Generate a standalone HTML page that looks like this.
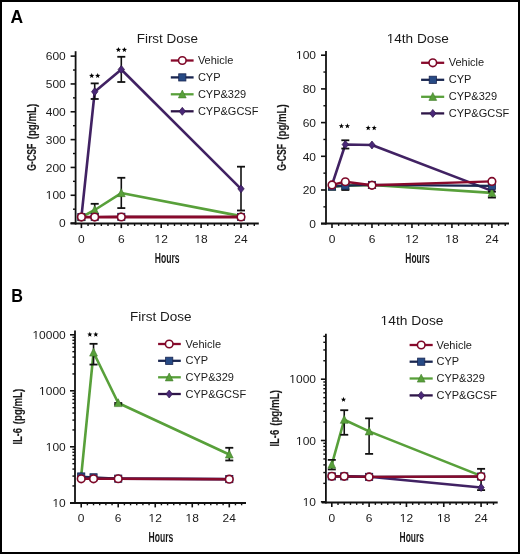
<!DOCTYPE html>
<html><head><meta charset="utf-8"><style>
html,body{margin:0;padding:0;background:#fff;}
svg{display:block;font-family:"Liberation Sans", sans-serif;}
text{-webkit-font-smoothing:antialiased;}
svg{will-change:transform;}
</style></head><body>
<svg width="520" height="554" viewBox="0 0 520 554">
<rect x="0" y="0" width="520" height="554" fill="#fff"/>
<polyline points="81.40,217.12 94.70,91.74 121.30,69.48 241.00,188.87" fill="none" stroke="#412263" stroke-width="2.6" stroke-linejoin="round"/>
<polyline points="81.40,217.12 94.70,210.02 121.30,193.04 241.00,216.14" fill="none" stroke="#58a03a" stroke-width="2.6" stroke-linejoin="round"/>
<polyline points="81.40,216.98 94.70,216.98 121.30,216.84 241.00,216.98" fill="none" stroke="#1a2650" stroke-width="2.2" stroke-linejoin="round"/>
<polyline points="81.40,217.12 94.70,217.12 121.30,216.98 241.00,216.98" fill="none" stroke="#880a2c" stroke-width="2.9" stroke-linejoin="round"/>
<line x1="94.70" y1="83.39" x2="94.70" y2="98.98" stroke="#111" stroke-width="1.6" stroke-linecap="butt"/>
<line x1="90.70" y1="83.39" x2="98.70" y2="83.39" stroke="#111" stroke-width="1.8" stroke-linecap="butt"/>
<line x1="90.70" y1="98.98" x2="98.70" y2="98.98" stroke="#111" stroke-width="1.8" stroke-linecap="butt"/>
<line x1="121.30" y1="56.79" x2="121.30" y2="82.00" stroke="#111" stroke-width="1.6" stroke-linecap="butt"/>
<line x1="117.30" y1="56.79" x2="125.30" y2="56.79" stroke="#111" stroke-width="1.8" stroke-linecap="butt"/>
<line x1="117.30" y1="82.00" x2="125.30" y2="82.00" stroke="#111" stroke-width="1.8" stroke-linecap="butt"/>
<line x1="241.00" y1="166.69" x2="241.00" y2="210.49" stroke="#111" stroke-width="1.6" stroke-linecap="butt"/>
<line x1="237.00" y1="166.69" x2="245.00" y2="166.69" stroke="#111" stroke-width="1.8" stroke-linecap="butt"/>
<line x1="237.00" y1="210.49" x2="245.00" y2="210.49" stroke="#111" stroke-width="1.8" stroke-linecap="butt"/>
<polygon points="81.40,213.12 84.60,217.12 81.40,221.12 78.20,217.12" fill="#4a2878" stroke="#2e1648" stroke-width="0.7"/>
<polygon points="94.70,87.74 97.90,91.74 94.70,95.74 91.50,91.74" fill="#4a2878" stroke="#2e1648" stroke-width="0.7"/>
<polygon points="121.30,65.48 124.50,69.48 121.30,73.48 118.10,69.48" fill="#4a2878" stroke="#2e1648" stroke-width="0.7"/>
<polygon points="241.00,184.87 244.20,188.87 241.00,192.87 237.80,188.87" fill="#4a2878" stroke="#2e1648" stroke-width="0.7"/>
<line x1="94.70" y1="203.81" x2="94.70" y2="216.14" stroke="#111" stroke-width="1.6" stroke-linecap="butt"/>
<line x1="90.70" y1="203.81" x2="98.70" y2="203.81" stroke="#111" stroke-width="1.8" stroke-linecap="butt"/>
<line x1="90.70" y1="216.14" x2="98.70" y2="216.14" stroke="#111" stroke-width="1.8" stroke-linecap="butt"/>
<line x1="121.30" y1="177.79" x2="121.30" y2="208.07" stroke="#111" stroke-width="1.6" stroke-linecap="butt"/>
<line x1="117.30" y1="177.79" x2="125.30" y2="177.79" stroke="#111" stroke-width="1.8" stroke-linecap="butt"/>
<line x1="117.30" y1="208.07" x2="125.30" y2="208.07" stroke="#111" stroke-width="1.8" stroke-linecap="butt"/>
<polygon points="81.40,212.82 85.30,220.72 77.50,220.72" fill="#58a03a" stroke="#3f7a2a" stroke-width="0.6"/>
<polygon points="94.70,205.72 98.60,213.62 90.80,213.62" fill="#58a03a" stroke="#3f7a2a" stroke-width="0.6"/>
<polygon points="121.30,188.74 125.20,196.64 117.40,196.64" fill="#58a03a" stroke="#3f7a2a" stroke-width="0.6"/>
<polygon points="241.00,211.84 244.90,219.74 237.10,219.74" fill="#58a03a" stroke="#3f7a2a" stroke-width="0.6"/>
<rect x="77.80" y="213.38" width="7.20" height="7.20" fill="#274a85" stroke="#1a2650" stroke-width="0.8"/>
<rect x="91.10" y="213.38" width="7.20" height="7.20" fill="#274a85" stroke="#1a2650" stroke-width="0.8"/>
<rect x="117.70" y="213.24" width="7.20" height="7.20" fill="#274a85" stroke="#1a2650" stroke-width="0.8"/>
<rect x="237.40" y="213.38" width="7.20" height="7.20" fill="#274a85" stroke="#1a2650" stroke-width="0.8"/>
<circle cx="81.40" cy="217.12" r="3.80" fill="#fff" stroke="#7e0828" stroke-width="1.60"/>
<circle cx="94.70" cy="217.12" r="3.80" fill="#fff" stroke="#7e0828" stroke-width="1.60"/>
<circle cx="121.30" cy="216.98" r="3.80" fill="#fff" stroke="#7e0828" stroke-width="1.60"/>
<circle cx="241.00" cy="216.98" r="3.80" fill="#fff" stroke="#7e0828" stroke-width="1.60"/>
<line x1="75.60" y1="51.20" x2="75.60" y2="224.60" stroke="#111" stroke-width="1.8" stroke-linecap="butt"/>
<line x1="70.50" y1="223.60" x2="258.80" y2="223.60" stroke="#111" stroke-width="2.0" stroke-linecap="butt"/>
<line x1="70.60" y1="223.10" x2="75.60" y2="223.10" stroke="#111" stroke-width="1.6" stroke-linecap="butt"/>
<text x="65.80" y="227.30" font-size="11.0" text-anchor="end" fill="#1a1a1a" textLength="6.67" lengthAdjust="spacingAndGlyphs">0</text>
<line x1="70.60" y1="195.27" x2="75.60" y2="195.27" stroke="#111" stroke-width="1.6" stroke-linecap="butt"/>
<text x="65.80" y="199.47" font-size="11.0" text-anchor="end" fill="#1a1a1a" textLength="20.02" lengthAdjust="spacingAndGlyphs">100</text>
<line x1="70.60" y1="167.44" x2="75.60" y2="167.44" stroke="#111" stroke-width="1.6" stroke-linecap="butt"/>
<text x="65.80" y="171.64" font-size="11.0" text-anchor="end" fill="#1a1a1a" textLength="20.02" lengthAdjust="spacingAndGlyphs">200</text>
<line x1="70.60" y1="139.61" x2="75.60" y2="139.61" stroke="#111" stroke-width="1.6" stroke-linecap="butt"/>
<text x="65.80" y="143.81" font-size="11.0" text-anchor="end" fill="#1a1a1a" textLength="20.02" lengthAdjust="spacingAndGlyphs">300</text>
<line x1="70.60" y1="111.78" x2="75.60" y2="111.78" stroke="#111" stroke-width="1.6" stroke-linecap="butt"/>
<text x="65.80" y="115.98" font-size="11.0" text-anchor="end" fill="#1a1a1a" textLength="20.02" lengthAdjust="spacingAndGlyphs">400</text>
<line x1="70.60" y1="83.95" x2="75.60" y2="83.95" stroke="#111" stroke-width="1.6" stroke-linecap="butt"/>
<text x="65.80" y="88.15" font-size="11.0" text-anchor="end" fill="#1a1a1a" textLength="20.02" lengthAdjust="spacingAndGlyphs">500</text>
<line x1="70.60" y1="56.12" x2="75.60" y2="56.12" stroke="#111" stroke-width="1.6" stroke-linecap="butt"/>
<text x="65.80" y="60.32" font-size="11.0" text-anchor="end" fill="#1a1a1a" textLength="20.02" lengthAdjust="spacingAndGlyphs">600</text>
<line x1="73.00" y1="209.19" x2="75.60" y2="209.19" stroke="#111" stroke-width="1.4" stroke-linecap="butt"/>
<line x1="73.00" y1="181.35" x2="75.60" y2="181.35" stroke="#111" stroke-width="1.4" stroke-linecap="butt"/>
<line x1="73.00" y1="153.52" x2="75.60" y2="153.52" stroke="#111" stroke-width="1.4" stroke-linecap="butt"/>
<line x1="73.00" y1="125.69" x2="75.60" y2="125.69" stroke="#111" stroke-width="1.4" stroke-linecap="butt"/>
<line x1="73.00" y1="97.86" x2="75.60" y2="97.86" stroke="#111" stroke-width="1.4" stroke-linecap="butt"/>
<line x1="73.00" y1="70.03" x2="75.60" y2="70.03" stroke="#111" stroke-width="1.4" stroke-linecap="butt"/>
<line x1="81.40" y1="223.60" x2="81.40" y2="228.10" stroke="#111" stroke-width="1.6" stroke-linecap="butt"/>
<text x="81.40" y="243.40" font-size="11.0" text-anchor="middle" fill="#1a1a1a" textLength="6.67" lengthAdjust="spacingAndGlyphs">0</text>
<line x1="88.05" y1="223.60" x2="88.05" y2="226.00" stroke="#111" stroke-width="1.4" stroke-linecap="butt"/>
<line x1="94.70" y1="223.60" x2="94.70" y2="226.00" stroke="#111" stroke-width="1.4" stroke-linecap="butt"/>
<line x1="101.35" y1="223.60" x2="101.35" y2="226.00" stroke="#111" stroke-width="1.4" stroke-linecap="butt"/>
<line x1="108.00" y1="223.60" x2="108.00" y2="226.00" stroke="#111" stroke-width="1.4" stroke-linecap="butt"/>
<line x1="114.65" y1="223.60" x2="114.65" y2="226.00" stroke="#111" stroke-width="1.4" stroke-linecap="butt"/>
<line x1="121.30" y1="223.60" x2="121.30" y2="228.10" stroke="#111" stroke-width="1.6" stroke-linecap="butt"/>
<text x="121.30" y="243.40" font-size="11.0" text-anchor="middle" fill="#1a1a1a" textLength="6.67" lengthAdjust="spacingAndGlyphs">6</text>
<line x1="127.95" y1="223.60" x2="127.95" y2="226.00" stroke="#111" stroke-width="1.4" stroke-linecap="butt"/>
<line x1="134.60" y1="223.60" x2="134.60" y2="226.00" stroke="#111" stroke-width="1.4" stroke-linecap="butt"/>
<line x1="141.25" y1="223.60" x2="141.25" y2="226.00" stroke="#111" stroke-width="1.4" stroke-linecap="butt"/>
<line x1="147.90" y1="223.60" x2="147.90" y2="226.00" stroke="#111" stroke-width="1.4" stroke-linecap="butt"/>
<line x1="154.55" y1="223.60" x2="154.55" y2="226.00" stroke="#111" stroke-width="1.4" stroke-linecap="butt"/>
<line x1="161.20" y1="223.60" x2="161.20" y2="228.10" stroke="#111" stroke-width="1.6" stroke-linecap="butt"/>
<text x="161.20" y="243.40" font-size="11.0" text-anchor="middle" fill="#1a1a1a" textLength="13.34" lengthAdjust="spacingAndGlyphs">12</text>
<line x1="167.85" y1="223.60" x2="167.85" y2="226.00" stroke="#111" stroke-width="1.4" stroke-linecap="butt"/>
<line x1="174.50" y1="223.60" x2="174.50" y2="226.00" stroke="#111" stroke-width="1.4" stroke-linecap="butt"/>
<line x1="181.15" y1="223.60" x2="181.15" y2="226.00" stroke="#111" stroke-width="1.4" stroke-linecap="butt"/>
<line x1="187.80" y1="223.60" x2="187.80" y2="226.00" stroke="#111" stroke-width="1.4" stroke-linecap="butt"/>
<line x1="194.45" y1="223.60" x2="194.45" y2="226.00" stroke="#111" stroke-width="1.4" stroke-linecap="butt"/>
<line x1="201.10" y1="223.60" x2="201.10" y2="228.10" stroke="#111" stroke-width="1.6" stroke-linecap="butt"/>
<text x="201.10" y="243.40" font-size="11.0" text-anchor="middle" fill="#1a1a1a" textLength="13.34" lengthAdjust="spacingAndGlyphs">18</text>
<line x1="207.75" y1="223.60" x2="207.75" y2="226.00" stroke="#111" stroke-width="1.4" stroke-linecap="butt"/>
<line x1="214.40" y1="223.60" x2="214.40" y2="226.00" stroke="#111" stroke-width="1.4" stroke-linecap="butt"/>
<line x1="221.05" y1="223.60" x2="221.05" y2="226.00" stroke="#111" stroke-width="1.4" stroke-linecap="butt"/>
<line x1="227.70" y1="223.60" x2="227.70" y2="226.00" stroke="#111" stroke-width="1.4" stroke-linecap="butt"/>
<line x1="234.35" y1="223.60" x2="234.35" y2="226.00" stroke="#111" stroke-width="1.4" stroke-linecap="butt"/>
<line x1="241.00" y1="223.60" x2="241.00" y2="228.10" stroke="#111" stroke-width="1.6" stroke-linecap="butt"/>
<text x="241.00" y="243.40" font-size="11.0" text-anchor="middle" fill="#1a1a1a" textLength="13.34" lengthAdjust="spacingAndGlyphs">24</text>
<line x1="247.65" y1="223.60" x2="247.65" y2="226.00" stroke="#111" stroke-width="1.4" stroke-linecap="butt"/>
<line x1="254.30" y1="223.60" x2="254.30" y2="226.00" stroke="#111" stroke-width="1.4" stroke-linecap="butt"/>
<text x="167.35" y="42.60" font-size="13.5" text-anchor="middle" fill="#1a1a1a" textLength="61.3" lengthAdjust="spacingAndGlyphs">First Dose</text>
<text x="167.20" y="263.00" font-size="13.8" text-anchor="middle" fill="#1a1a1a" textLength="24.8" lengthAdjust="spacingAndGlyphs" font-weight="bold">Hours</text>
<text transform="translate(35.80,157.15) rotate(-90)" x="0" y="0" font-size="13.3" text-anchor="middle" font-weight="bold" fill="#1a1a1a" stroke="#1a1a1a" stroke-width="0.15" textLength="27.0" lengthAdjust="spacingAndGlyphs">G-CSF</text>
<text transform="translate(35.80,121.55) rotate(-90)" x="0" y="0" font-size="13.3" text-anchor="middle" font-weight="bold" fill="#1a1a1a" stroke="#1a1a1a" stroke-width="0.15" textLength="35.6" lengthAdjust="spacingAndGlyphs">(pg/mL)</text>
<line x1="170.80" y1="60.50" x2="193.60" y2="60.50" stroke="#880a2c" stroke-width="2.3" stroke-linecap="butt"/>
<circle cx="182.30" cy="60.50" r="3.80" fill="#fff" stroke="#7e0828" stroke-width="1.60"/>
<text x="197.90" y="64.05" font-size="11" text-anchor="start" fill="#1a1a1a" >Vehicle</text>
<line x1="170.80" y1="77.40" x2="193.60" y2="77.40" stroke="#1a2650" stroke-width="2.3" stroke-linecap="butt"/>
<rect x="178.70" y="73.80" width="7.20" height="7.20" fill="#274a85" stroke="#1a2650" stroke-width="0.8"/>
<text x="197.90" y="80.95" font-size="11" text-anchor="start" fill="#1a1a1a" >CYP</text>
<line x1="170.80" y1="94.30" x2="193.60" y2="94.30" stroke="#58a03a" stroke-width="2.3" stroke-linecap="butt"/>
<polygon points="182.30,90.00 186.20,97.90 178.40,97.90" fill="#58a03a" stroke="#3f7a2a" stroke-width="0.6"/>
<text x="197.90" y="97.85" font-size="11" text-anchor="start" fill="#1a1a1a" >CYP&amp;329</text>
<line x1="170.80" y1="111.30" x2="193.60" y2="111.30" stroke="#2e1648" stroke-width="2.3" stroke-linecap="butt"/>
<polygon points="182.30,107.30 185.50,111.30 182.30,115.30 179.10,111.30" fill="#4a2878" stroke="#2e1648" stroke-width="0.7"/>
<text x="197.90" y="114.85" font-size="11" text-anchor="start" fill="#1a1a1a" >CYP&amp;GCSF</text>
<polygon points="91.70,73.05 92.38,74.87 94.32,74.95 92.79,76.16 93.32,78.02 91.70,76.95 90.08,78.02 90.61,76.16 89.08,74.95 91.02,74.87" fill="#000"/>
<polygon points="97.70,73.05 98.38,74.87 100.32,74.95 98.79,76.16 99.32,78.02 97.70,76.95 96.08,78.02 96.61,76.16 95.08,74.95 97.02,74.87" fill="#000"/>
<polygon points="118.40,47.05 119.08,48.87 121.02,48.95 119.49,50.16 120.02,52.02 118.40,50.95 116.78,52.02 117.31,50.16 115.78,48.95 117.72,48.87" fill="#000"/>
<polygon points="124.40,47.05 125.08,48.87 127.02,48.95 125.49,50.16 126.02,52.02 124.40,50.95 122.78,52.02 123.31,50.16 121.78,48.95 123.72,48.87" fill="#000"/>
<polyline points="332.00,184.94 345.33,144.50 371.98,145.01 491.91,190.84" fill="none" stroke="#412263" stroke-width="2.6" stroke-linejoin="round"/>
<polyline points="332.00,186.63 345.33,185.62 371.98,184.94 491.91,192.86" fill="none" stroke="#58a03a" stroke-width="2.6" stroke-linejoin="round"/>
<polyline points="332.00,186.63 345.33,185.62 371.98,184.94 491.91,185.96" fill="none" stroke="#1a2650" stroke-width="2.2" stroke-linejoin="round"/>
<polyline points="332.00,184.94 345.33,181.74 371.98,185.28 491.91,181.41" fill="none" stroke="#880a2c" stroke-width="2.4" stroke-linejoin="round"/>
<line x1="345.33" y1="140.29" x2="345.33" y2="148.55" stroke="#111" stroke-width="1.6" stroke-linecap="butt"/>
<line x1="341.33" y1="140.29" x2="349.33" y2="140.29" stroke="#111" stroke-width="1.8" stroke-linecap="butt"/>
<line x1="341.33" y1="148.55" x2="349.33" y2="148.55" stroke="#111" stroke-width="1.8" stroke-linecap="butt"/>
<polygon points="332.00,180.94 335.20,184.94 332.00,188.94 328.80,184.94" fill="#4a2878" stroke="#2e1648" stroke-width="0.7"/>
<polygon points="345.33,140.50 348.53,144.50 345.33,148.50 342.13,144.50" fill="#4a2878" stroke="#2e1648" stroke-width="0.7"/>
<polygon points="371.98,141.01 375.18,145.01 371.98,149.01 368.78,145.01" fill="#4a2878" stroke="#2e1648" stroke-width="0.7"/>
<polygon points="491.91,186.84 495.11,190.84 491.91,194.84 488.71,190.84" fill="#4a2878" stroke="#2e1648" stroke-width="0.7"/>
<line x1="491.91" y1="191.69" x2="491.91" y2="197.58" stroke="#111" stroke-width="1.6" stroke-linecap="butt"/>
<line x1="487.91" y1="191.69" x2="495.91" y2="191.69" stroke="#111" stroke-width="1.8" stroke-linecap="butt"/>
<line x1="487.91" y1="197.58" x2="495.91" y2="197.58" stroke="#111" stroke-width="1.8" stroke-linecap="butt"/>
<polygon points="332.00,182.33 335.90,190.23 328.10,190.23" fill="#58a03a" stroke="#3f7a2a" stroke-width="0.6"/>
<polygon points="345.33,181.32 349.23,189.22 341.43,189.22" fill="#58a03a" stroke="#3f7a2a" stroke-width="0.6"/>
<polygon points="371.98,180.64 375.88,188.54 368.08,188.54" fill="#58a03a" stroke="#3f7a2a" stroke-width="0.6"/>
<polygon points="491.91,188.56 495.81,196.46 488.01,196.46" fill="#58a03a" stroke="#3f7a2a" stroke-width="0.6"/>
<line x1="345.33" y1="183.26" x2="345.33" y2="190.00" stroke="#111" stroke-width="1.6" stroke-linecap="butt"/>
<line x1="341.33" y1="183.26" x2="349.33" y2="183.26" stroke="#111" stroke-width="1.8" stroke-linecap="butt"/>
<line x1="341.33" y1="190.00" x2="349.33" y2="190.00" stroke="#111" stroke-width="1.8" stroke-linecap="butt"/>
<rect x="328.40" y="183.03" width="7.20" height="7.20" fill="#274a85" stroke="#1a2650" stroke-width="0.8"/>
<rect x="341.73" y="182.02" width="7.20" height="7.20" fill="#274a85" stroke="#1a2650" stroke-width="0.8"/>
<rect x="368.38" y="181.34" width="7.20" height="7.20" fill="#274a85" stroke="#1a2650" stroke-width="0.8"/>
<rect x="488.31" y="182.36" width="7.20" height="7.20" fill="#274a85" stroke="#1a2650" stroke-width="0.8"/>
<circle cx="332.00" cy="184.94" r="3.80" fill="#fff" stroke="#7e0828" stroke-width="1.60"/>
<circle cx="345.33" cy="181.74" r="3.80" fill="#fff" stroke="#7e0828" stroke-width="1.60"/>
<circle cx="371.98" cy="185.28" r="3.80" fill="#fff" stroke="#7e0828" stroke-width="1.60"/>
<circle cx="491.91" cy="181.41" r="3.80" fill="#fff" stroke="#7e0828" stroke-width="1.60"/>
<line x1="326.00" y1="51.00" x2="326.00" y2="224.50" stroke="#111" stroke-width="1.8" stroke-linecap="butt"/>
<line x1="321.00" y1="223.50" x2="509.00" y2="223.50" stroke="#111" stroke-width="2.0" stroke-linecap="butt"/>
<line x1="321.00" y1="223.70" x2="326.00" y2="223.70" stroke="#111" stroke-width="1.6" stroke-linecap="butt"/>
<text x="316.00" y="227.90" font-size="11.0" text-anchor="end" fill="#1a1a1a" textLength="6.67" lengthAdjust="spacingAndGlyphs">0</text>
<line x1="321.00" y1="190.00" x2="326.00" y2="190.00" stroke="#111" stroke-width="1.6" stroke-linecap="butt"/>
<text x="316.00" y="194.20" font-size="11.0" text-anchor="end" fill="#1a1a1a" textLength="13.34" lengthAdjust="spacingAndGlyphs">20</text>
<line x1="321.00" y1="156.30" x2="326.00" y2="156.30" stroke="#111" stroke-width="1.6" stroke-linecap="butt"/>
<text x="316.00" y="160.50" font-size="11.0" text-anchor="end" fill="#1a1a1a" textLength="13.34" lengthAdjust="spacingAndGlyphs">40</text>
<line x1="321.00" y1="122.60" x2="326.00" y2="122.60" stroke="#111" stroke-width="1.6" stroke-linecap="butt"/>
<text x="316.00" y="126.80" font-size="11.0" text-anchor="end" fill="#1a1a1a" textLength="13.34" lengthAdjust="spacingAndGlyphs">60</text>
<line x1="321.00" y1="88.90" x2="326.00" y2="88.90" stroke="#111" stroke-width="1.6" stroke-linecap="butt"/>
<text x="316.00" y="93.10" font-size="11.0" text-anchor="end" fill="#1a1a1a" textLength="13.34" lengthAdjust="spacingAndGlyphs">80</text>
<line x1="321.00" y1="55.20" x2="326.00" y2="55.20" stroke="#111" stroke-width="1.6" stroke-linecap="butt"/>
<text x="316.00" y="59.40" font-size="11.0" text-anchor="end" fill="#1a1a1a" textLength="20.02" lengthAdjust="spacingAndGlyphs">100</text>
<line x1="323.40" y1="206.85" x2="326.00" y2="206.85" stroke="#111" stroke-width="1.4" stroke-linecap="butt"/>
<line x1="323.40" y1="173.15" x2="326.00" y2="173.15" stroke="#111" stroke-width="1.4" stroke-linecap="butt"/>
<line x1="323.40" y1="139.45" x2="326.00" y2="139.45" stroke="#111" stroke-width="1.4" stroke-linecap="butt"/>
<line x1="323.40" y1="105.75" x2="326.00" y2="105.75" stroke="#111" stroke-width="1.4" stroke-linecap="butt"/>
<line x1="323.40" y1="72.05" x2="326.00" y2="72.05" stroke="#111" stroke-width="1.4" stroke-linecap="butt"/>
<line x1="332.00" y1="223.50" x2="332.00" y2="228.00" stroke="#111" stroke-width="1.6" stroke-linecap="butt"/>
<text x="332.00" y="243.20" font-size="11.0" text-anchor="middle" fill="#1a1a1a" textLength="6.67" lengthAdjust="spacingAndGlyphs">0</text>
<line x1="338.66" y1="223.50" x2="338.66" y2="225.90" stroke="#111" stroke-width="1.4" stroke-linecap="butt"/>
<line x1="345.33" y1="223.50" x2="345.33" y2="225.90" stroke="#111" stroke-width="1.4" stroke-linecap="butt"/>
<line x1="351.99" y1="223.50" x2="351.99" y2="225.90" stroke="#111" stroke-width="1.4" stroke-linecap="butt"/>
<line x1="358.65" y1="223.50" x2="358.65" y2="225.90" stroke="#111" stroke-width="1.4" stroke-linecap="butt"/>
<line x1="365.31" y1="223.50" x2="365.31" y2="225.90" stroke="#111" stroke-width="1.4" stroke-linecap="butt"/>
<line x1="371.98" y1="223.50" x2="371.98" y2="228.00" stroke="#111" stroke-width="1.6" stroke-linecap="butt"/>
<text x="371.98" y="243.20" font-size="11.0" text-anchor="middle" fill="#1a1a1a" textLength="6.67" lengthAdjust="spacingAndGlyphs">6</text>
<line x1="378.64" y1="223.50" x2="378.64" y2="225.90" stroke="#111" stroke-width="1.4" stroke-linecap="butt"/>
<line x1="385.30" y1="223.50" x2="385.30" y2="225.90" stroke="#111" stroke-width="1.4" stroke-linecap="butt"/>
<line x1="391.97" y1="223.50" x2="391.97" y2="225.90" stroke="#111" stroke-width="1.4" stroke-linecap="butt"/>
<line x1="398.63" y1="223.50" x2="398.63" y2="225.90" stroke="#111" stroke-width="1.4" stroke-linecap="butt"/>
<line x1="405.29" y1="223.50" x2="405.29" y2="225.90" stroke="#111" stroke-width="1.4" stroke-linecap="butt"/>
<line x1="411.96" y1="223.50" x2="411.96" y2="228.00" stroke="#111" stroke-width="1.6" stroke-linecap="butt"/>
<text x="411.96" y="243.20" font-size="11.0" text-anchor="middle" fill="#1a1a1a" textLength="13.34" lengthAdjust="spacingAndGlyphs">12</text>
<line x1="418.62" y1="223.50" x2="418.62" y2="225.90" stroke="#111" stroke-width="1.4" stroke-linecap="butt"/>
<line x1="425.28" y1="223.50" x2="425.28" y2="225.90" stroke="#111" stroke-width="1.4" stroke-linecap="butt"/>
<line x1="431.94" y1="223.50" x2="431.94" y2="225.90" stroke="#111" stroke-width="1.4" stroke-linecap="butt"/>
<line x1="438.61" y1="223.50" x2="438.61" y2="225.90" stroke="#111" stroke-width="1.4" stroke-linecap="butt"/>
<line x1="445.27" y1="223.50" x2="445.27" y2="225.90" stroke="#111" stroke-width="1.4" stroke-linecap="butt"/>
<line x1="451.93" y1="223.50" x2="451.93" y2="228.00" stroke="#111" stroke-width="1.6" stroke-linecap="butt"/>
<text x="451.93" y="243.20" font-size="11.0" text-anchor="middle" fill="#1a1a1a" textLength="13.34" lengthAdjust="spacingAndGlyphs">18</text>
<line x1="458.60" y1="223.50" x2="458.60" y2="225.90" stroke="#111" stroke-width="1.4" stroke-linecap="butt"/>
<line x1="465.26" y1="223.50" x2="465.26" y2="225.90" stroke="#111" stroke-width="1.4" stroke-linecap="butt"/>
<line x1="471.92" y1="223.50" x2="471.92" y2="225.90" stroke="#111" stroke-width="1.4" stroke-linecap="butt"/>
<line x1="478.59" y1="223.50" x2="478.59" y2="225.90" stroke="#111" stroke-width="1.4" stroke-linecap="butt"/>
<line x1="485.25" y1="223.50" x2="485.25" y2="225.90" stroke="#111" stroke-width="1.4" stroke-linecap="butt"/>
<line x1="491.91" y1="223.50" x2="491.91" y2="228.00" stroke="#111" stroke-width="1.6" stroke-linecap="butt"/>
<text x="491.91" y="243.20" font-size="11.0" text-anchor="middle" fill="#1a1a1a" textLength="13.34" lengthAdjust="spacingAndGlyphs">24</text>
<line x1="498.58" y1="223.50" x2="498.58" y2="225.90" stroke="#111" stroke-width="1.4" stroke-linecap="butt"/>
<line x1="505.24" y1="223.50" x2="505.24" y2="225.90" stroke="#111" stroke-width="1.4" stroke-linecap="butt"/>
<text x="417.75" y="42.70" font-size="13.5" text-anchor="middle" fill="#1a1a1a" textLength="62.1" lengthAdjust="spacingAndGlyphs">14th Dose</text>
<text x="417.50" y="262.60" font-size="13.8" text-anchor="middle" fill="#1a1a1a" textLength="24.3" lengthAdjust="spacingAndGlyphs" font-weight="bold">Hours</text>
<text transform="translate(286.30,157.40) rotate(-90)" x="0" y="0" font-size="13.3" text-anchor="middle" font-weight="bold" fill="#1a1a1a" stroke="#1a1a1a" stroke-width="0.15" textLength="26.7" lengthAdjust="spacingAndGlyphs">G-CSF</text>
<text transform="translate(286.30,122.00) rotate(-90)" x="0" y="0" font-size="13.3" text-anchor="middle" font-weight="bold" fill="#1a1a1a" stroke="#1a1a1a" stroke-width="0.15" textLength="35.5" lengthAdjust="spacingAndGlyphs">(pg/mL)</text>
<line x1="421.10" y1="62.80" x2="444.20" y2="62.80" stroke="#880a2c" stroke-width="2.3" stroke-linecap="butt"/>
<circle cx="432.80" cy="62.80" r="3.80" fill="#fff" stroke="#7e0828" stroke-width="1.60"/>
<text x="448.70" y="66.35" font-size="11" text-anchor="start" fill="#1a1a1a" >Vehicle</text>
<line x1="421.10" y1="79.80" x2="444.20" y2="79.80" stroke="#1a2650" stroke-width="2.3" stroke-linecap="butt"/>
<rect x="429.20" y="76.20" width="7.20" height="7.20" fill="#274a85" stroke="#1a2650" stroke-width="0.8"/>
<text x="448.70" y="83.35" font-size="11" text-anchor="start" fill="#1a1a1a" >CYP</text>
<line x1="421.10" y1="96.80" x2="444.20" y2="96.80" stroke="#58a03a" stroke-width="2.3" stroke-linecap="butt"/>
<polygon points="432.80,92.50 436.70,100.40 428.90,100.40" fill="#58a03a" stroke="#3f7a2a" stroke-width="0.6"/>
<text x="448.70" y="100.35" font-size="11" text-anchor="start" fill="#1a1a1a" >CYP&amp;329</text>
<line x1="421.10" y1="113.40" x2="444.20" y2="113.40" stroke="#2e1648" stroke-width="2.3" stroke-linecap="butt"/>
<polygon points="432.80,109.40 436.00,113.40 432.80,117.40 429.60,113.40" fill="#4a2878" stroke="#2e1648" stroke-width="0.7"/>
<text x="448.70" y="116.95" font-size="11" text-anchor="start" fill="#1a1a1a" >CYP&amp;GCSF</text>
<polygon points="341.40,123.35 342.08,125.17 344.02,125.25 342.49,126.46 343.02,128.32 341.40,127.25 339.78,128.32 340.31,126.46 338.78,125.25 340.72,125.17" fill="#000"/>
<polygon points="347.40,123.35 348.08,125.17 350.02,125.25 348.49,126.46 349.02,128.32 347.40,127.25 345.78,128.32 346.31,126.46 344.78,125.25 346.72,125.17" fill="#000"/>
<polygon points="368.20,125.25 368.88,127.07 370.82,127.15 369.29,128.36 369.82,130.22 368.20,129.15 366.58,130.22 367.11,128.36 365.58,127.15 367.52,127.07" fill="#000"/>
<polygon points="374.20,125.25 374.88,127.07 376.82,127.15 375.29,128.36 375.82,130.22 374.20,129.15 372.58,130.22 373.11,128.36 371.58,127.15 373.52,127.07" fill="#000"/>
<polyline points="81.20,478.64 93.54,478.64 118.22,478.64 229.28,479.10" fill="none" stroke="#412263" stroke-width="2.6" stroke-linejoin="round"/>
<polyline points="81.20,476.08 93.54,352.50 118.22,403.02 229.28,454.45" fill="none" stroke="#58a03a" stroke-width="2.6" stroke-linejoin="round"/>
<polyline points="81.20,476.49 93.54,477.33 118.22,478.64 229.28,479.10" fill="none" stroke="#1a2650" stroke-width="2.2" stroke-linejoin="round"/>
<polyline points="81.20,478.82 93.54,478.82 118.22,478.73 229.28,479.19" fill="none" stroke="#880a2c" stroke-width="2.4" stroke-linejoin="round"/>
<polygon points="81.20,474.64 84.40,478.64 81.20,482.64 78.00,478.64" fill="#4a2878" stroke="#2e1648" stroke-width="0.7"/>
<polygon points="93.54,474.64 96.74,478.64 93.54,482.64 90.34,478.64" fill="#4a2878" stroke="#2e1648" stroke-width="0.7"/>
<polygon points="118.22,474.64 121.42,478.64 118.22,482.64 115.02,478.64" fill="#4a2878" stroke="#2e1648" stroke-width="0.7"/>
<polygon points="229.28,475.10 232.48,479.10 229.28,483.10 226.08,479.10" fill="#4a2878" stroke="#2e1648" stroke-width="0.7"/>
<line x1="93.54" y1="343.82" x2="93.54" y2="364.57" stroke="#111" stroke-width="1.6" stroke-linecap="butt"/>
<line x1="89.54" y1="343.82" x2="97.54" y2="343.82" stroke="#111" stroke-width="1.8" stroke-linecap="butt"/>
<line x1="89.54" y1="364.57" x2="97.54" y2="364.57" stroke="#111" stroke-width="1.8" stroke-linecap="butt"/>
<line x1="118.22" y1="403.02" x2="118.22" y2="404.90" stroke="#111" stroke-width="1.6" stroke-linecap="butt"/>
<line x1="114.22" y1="403.02" x2="122.22" y2="403.02" stroke="#111" stroke-width="1.8" stroke-linecap="butt"/>
<line x1="114.22" y1="404.90" x2="122.22" y2="404.90" stroke="#111" stroke-width="1.8" stroke-linecap="butt"/>
<line x1="229.28" y1="447.79" x2="229.28" y2="460.47" stroke="#111" stroke-width="1.6" stroke-linecap="butt"/>
<line x1="225.28" y1="447.79" x2="233.28" y2="447.79" stroke="#111" stroke-width="1.8" stroke-linecap="butt"/>
<line x1="225.28" y1="460.47" x2="233.28" y2="460.47" stroke="#111" stroke-width="1.8" stroke-linecap="butt"/>
<polygon points="81.20,471.78 85.10,479.68 77.30,479.68" fill="#58a03a" stroke="#3f7a2a" stroke-width="0.6"/>
<polygon points="93.54,348.20 97.44,356.10 89.64,356.10" fill="#58a03a" stroke="#3f7a2a" stroke-width="0.6"/>
<polygon points="118.22,398.72 122.12,406.62 114.32,406.62" fill="#58a03a" stroke="#3f7a2a" stroke-width="0.6"/>
<polygon points="229.28,450.15 233.18,458.05 225.38,458.05" fill="#58a03a" stroke="#3f7a2a" stroke-width="0.6"/>
<rect x="77.60" y="472.89" width="7.20" height="7.20" fill="#274a85" stroke="#1a2650" stroke-width="0.8"/>
<rect x="89.94" y="473.73" width="7.20" height="7.20" fill="#274a85" stroke="#1a2650" stroke-width="0.8"/>
<rect x="114.62" y="475.04" width="7.20" height="7.20" fill="#274a85" stroke="#1a2650" stroke-width="0.8"/>
<rect x="225.68" y="475.50" width="7.20" height="7.20" fill="#274a85" stroke="#1a2650" stroke-width="0.8"/>
<circle cx="81.20" cy="478.82" r="3.80" fill="#fff" stroke="#7e0828" stroke-width="1.60"/>
<circle cx="93.54" cy="478.82" r="3.80" fill="#fff" stroke="#7e0828" stroke-width="1.60"/>
<circle cx="118.22" cy="478.73" r="3.80" fill="#fff" stroke="#7e0828" stroke-width="1.60"/>
<circle cx="229.28" cy="479.19" r="3.80" fill="#fff" stroke="#7e0828" stroke-width="1.60"/>
<line x1="75.00" y1="330.50" x2="75.00" y2="503.90" stroke="#111" stroke-width="1.8" stroke-linecap="butt"/>
<line x1="70.00" y1="502.90" x2="246.00" y2="502.90" stroke="#111" stroke-width="2.0" stroke-linecap="butt"/>
<line x1="70.00" y1="502.80" x2="75.00" y2="502.80" stroke="#111" stroke-width="1.6" stroke-linecap="butt"/>
<text x="65.80" y="507.00" font-size="11.0" text-anchor="end" fill="#1a1a1a" textLength="13.34" lengthAdjust="spacingAndGlyphs">10</text>
<line x1="70.00" y1="446.80" x2="75.00" y2="446.80" stroke="#111" stroke-width="1.6" stroke-linecap="butt"/>
<text x="65.80" y="451.00" font-size="11.0" text-anchor="end" fill="#1a1a1a" textLength="20.02" lengthAdjust="spacingAndGlyphs">100</text>
<line x1="70.00" y1="390.80" x2="75.00" y2="390.80" stroke="#111" stroke-width="1.6" stroke-linecap="butt"/>
<text x="65.80" y="395.00" font-size="11.0" text-anchor="end" fill="#1a1a1a" textLength="26.69" lengthAdjust="spacingAndGlyphs">1000</text>
<line x1="70.00" y1="334.80" x2="75.00" y2="334.80" stroke="#111" stroke-width="1.6" stroke-linecap="butt"/>
<text x="65.80" y="339.00" font-size="11.0" text-anchor="end" fill="#1a1a1a" textLength="33.36" lengthAdjust="spacingAndGlyphs">10000</text>
<line x1="72.40" y1="485.94" x2="75.00" y2="485.94" stroke="#111" stroke-width="1.4" stroke-linecap="butt"/>
<line x1="72.40" y1="476.08" x2="75.00" y2="476.08" stroke="#111" stroke-width="1.4" stroke-linecap="butt"/>
<line x1="72.40" y1="469.08" x2="75.00" y2="469.08" stroke="#111" stroke-width="1.4" stroke-linecap="butt"/>
<line x1="72.40" y1="463.66" x2="75.00" y2="463.66" stroke="#111" stroke-width="1.4" stroke-linecap="butt"/>
<line x1="72.40" y1="459.22" x2="75.00" y2="459.22" stroke="#111" stroke-width="1.4" stroke-linecap="butt"/>
<line x1="72.40" y1="455.47" x2="75.00" y2="455.47" stroke="#111" stroke-width="1.4" stroke-linecap="butt"/>
<line x1="72.40" y1="452.23" x2="75.00" y2="452.23" stroke="#111" stroke-width="1.4" stroke-linecap="butt"/>
<line x1="72.40" y1="449.36" x2="75.00" y2="449.36" stroke="#111" stroke-width="1.4" stroke-linecap="butt"/>
<line x1="72.40" y1="429.94" x2="75.00" y2="429.94" stroke="#111" stroke-width="1.4" stroke-linecap="butt"/>
<line x1="72.40" y1="420.08" x2="75.00" y2="420.08" stroke="#111" stroke-width="1.4" stroke-linecap="butt"/>
<line x1="72.40" y1="413.08" x2="75.00" y2="413.08" stroke="#111" stroke-width="1.4" stroke-linecap="butt"/>
<line x1="72.40" y1="407.66" x2="75.00" y2="407.66" stroke="#111" stroke-width="1.4" stroke-linecap="butt"/>
<line x1="72.40" y1="403.22" x2="75.00" y2="403.22" stroke="#111" stroke-width="1.4" stroke-linecap="butt"/>
<line x1="72.40" y1="399.47" x2="75.00" y2="399.47" stroke="#111" stroke-width="1.4" stroke-linecap="butt"/>
<line x1="72.40" y1="396.23" x2="75.00" y2="396.23" stroke="#111" stroke-width="1.4" stroke-linecap="butt"/>
<line x1="72.40" y1="393.36" x2="75.00" y2="393.36" stroke="#111" stroke-width="1.4" stroke-linecap="butt"/>
<line x1="72.40" y1="373.94" x2="75.00" y2="373.94" stroke="#111" stroke-width="1.4" stroke-linecap="butt"/>
<line x1="72.40" y1="364.08" x2="75.00" y2="364.08" stroke="#111" stroke-width="1.4" stroke-linecap="butt"/>
<line x1="72.40" y1="357.08" x2="75.00" y2="357.08" stroke="#111" stroke-width="1.4" stroke-linecap="butt"/>
<line x1="72.40" y1="351.66" x2="75.00" y2="351.66" stroke="#111" stroke-width="1.4" stroke-linecap="butt"/>
<line x1="72.40" y1="347.22" x2="75.00" y2="347.22" stroke="#111" stroke-width="1.4" stroke-linecap="butt"/>
<line x1="72.40" y1="343.47" x2="75.00" y2="343.47" stroke="#111" stroke-width="1.4" stroke-linecap="butt"/>
<line x1="72.40" y1="340.23" x2="75.00" y2="340.23" stroke="#111" stroke-width="1.4" stroke-linecap="butt"/>
<line x1="72.40" y1="337.36" x2="75.00" y2="337.36" stroke="#111" stroke-width="1.4" stroke-linecap="butt"/>
<line x1="81.20" y1="502.90" x2="81.20" y2="507.40" stroke="#111" stroke-width="1.6" stroke-linecap="butt"/>
<text x="81.20" y="522.30" font-size="11.0" text-anchor="middle" fill="#1a1a1a" textLength="6.67" lengthAdjust="spacingAndGlyphs">0</text>
<line x1="87.37" y1="502.90" x2="87.37" y2="505.30" stroke="#111" stroke-width="1.4" stroke-linecap="butt"/>
<line x1="93.54" y1="502.90" x2="93.54" y2="505.30" stroke="#111" stroke-width="1.4" stroke-linecap="butt"/>
<line x1="99.71" y1="502.90" x2="99.71" y2="505.30" stroke="#111" stroke-width="1.4" stroke-linecap="butt"/>
<line x1="105.88" y1="502.90" x2="105.88" y2="505.30" stroke="#111" stroke-width="1.4" stroke-linecap="butt"/>
<line x1="112.05" y1="502.90" x2="112.05" y2="505.30" stroke="#111" stroke-width="1.4" stroke-linecap="butt"/>
<line x1="118.22" y1="502.90" x2="118.22" y2="507.40" stroke="#111" stroke-width="1.6" stroke-linecap="butt"/>
<text x="118.22" y="522.30" font-size="11.0" text-anchor="middle" fill="#1a1a1a" textLength="6.67" lengthAdjust="spacingAndGlyphs">6</text>
<line x1="124.39" y1="502.90" x2="124.39" y2="505.30" stroke="#111" stroke-width="1.4" stroke-linecap="butt"/>
<line x1="130.56" y1="502.90" x2="130.56" y2="505.30" stroke="#111" stroke-width="1.4" stroke-linecap="butt"/>
<line x1="136.73" y1="502.90" x2="136.73" y2="505.30" stroke="#111" stroke-width="1.4" stroke-linecap="butt"/>
<line x1="142.90" y1="502.90" x2="142.90" y2="505.30" stroke="#111" stroke-width="1.4" stroke-linecap="butt"/>
<line x1="149.07" y1="502.90" x2="149.07" y2="505.30" stroke="#111" stroke-width="1.4" stroke-linecap="butt"/>
<line x1="155.24" y1="502.90" x2="155.24" y2="507.40" stroke="#111" stroke-width="1.6" stroke-linecap="butt"/>
<text x="155.24" y="522.30" font-size="11.0" text-anchor="middle" fill="#1a1a1a" textLength="13.34" lengthAdjust="spacingAndGlyphs">12</text>
<line x1="161.41" y1="502.90" x2="161.41" y2="505.30" stroke="#111" stroke-width="1.4" stroke-linecap="butt"/>
<line x1="167.58" y1="502.90" x2="167.58" y2="505.30" stroke="#111" stroke-width="1.4" stroke-linecap="butt"/>
<line x1="173.75" y1="502.90" x2="173.75" y2="505.30" stroke="#111" stroke-width="1.4" stroke-linecap="butt"/>
<line x1="179.92" y1="502.90" x2="179.92" y2="505.30" stroke="#111" stroke-width="1.4" stroke-linecap="butt"/>
<line x1="186.09" y1="502.90" x2="186.09" y2="505.30" stroke="#111" stroke-width="1.4" stroke-linecap="butt"/>
<line x1="192.26" y1="502.90" x2="192.26" y2="507.40" stroke="#111" stroke-width="1.6" stroke-linecap="butt"/>
<text x="192.26" y="522.30" font-size="11.0" text-anchor="middle" fill="#1a1a1a" textLength="13.34" lengthAdjust="spacingAndGlyphs">18</text>
<line x1="198.43" y1="502.90" x2="198.43" y2="505.30" stroke="#111" stroke-width="1.4" stroke-linecap="butt"/>
<line x1="204.60" y1="502.90" x2="204.60" y2="505.30" stroke="#111" stroke-width="1.4" stroke-linecap="butt"/>
<line x1="210.77" y1="502.90" x2="210.77" y2="505.30" stroke="#111" stroke-width="1.4" stroke-linecap="butt"/>
<line x1="216.94" y1="502.90" x2="216.94" y2="505.30" stroke="#111" stroke-width="1.4" stroke-linecap="butt"/>
<line x1="223.11" y1="502.90" x2="223.11" y2="505.30" stroke="#111" stroke-width="1.4" stroke-linecap="butt"/>
<line x1="229.28" y1="502.90" x2="229.28" y2="507.40" stroke="#111" stroke-width="1.6" stroke-linecap="butt"/>
<text x="229.28" y="522.30" font-size="11.0" text-anchor="middle" fill="#1a1a1a" textLength="13.34" lengthAdjust="spacingAndGlyphs">24</text>
<line x1="235.45" y1="502.90" x2="235.45" y2="505.30" stroke="#111" stroke-width="1.4" stroke-linecap="butt"/>
<line x1="241.62" y1="502.90" x2="241.62" y2="505.30" stroke="#111" stroke-width="1.4" stroke-linecap="butt"/>
<text x="160.75" y="320.70" font-size="13.5" text-anchor="middle" fill="#1a1a1a" textLength="61.5" lengthAdjust="spacingAndGlyphs">First Dose</text>
<text x="160.90" y="541.90" font-size="13.8" text-anchor="middle" fill="#1a1a1a" textLength="24.8" lengthAdjust="spacingAndGlyphs" font-weight="bold">Hours</text>
<text transform="translate(21.50,436.30) rotate(-90)" x="0" y="0" font-size="13.3" text-anchor="middle" font-weight="bold" fill="#1a1a1a" stroke="#1a1a1a" stroke-width="0.15" textLength="16.6" lengthAdjust="spacingAndGlyphs">IL-6</text>
<text transform="translate(21.50,406.50) rotate(-90)" x="0" y="0" font-size="13.3" text-anchor="middle" font-weight="bold" fill="#1a1a1a" stroke="#1a1a1a" stroke-width="0.15" textLength="35.5" lengthAdjust="spacingAndGlyphs">(pg/mL)</text>
<line x1="158.10" y1="344.00" x2="180.80" y2="344.00" stroke="#880a2c" stroke-width="2.3" stroke-linecap="butt"/>
<circle cx="169.20" cy="344.00" r="3.80" fill="#fff" stroke="#7e0828" stroke-width="1.60"/>
<text x="185.60" y="347.55" font-size="11" text-anchor="start" fill="#1a1a1a" >Vehicle</text>
<line x1="158.10" y1="360.80" x2="180.80" y2="360.80" stroke="#1a2650" stroke-width="2.3" stroke-linecap="butt"/>
<rect x="165.60" y="357.20" width="7.20" height="7.20" fill="#274a85" stroke="#1a2650" stroke-width="0.8"/>
<text x="185.60" y="364.35" font-size="11" text-anchor="start" fill="#1a1a1a" >CYP</text>
<line x1="158.10" y1="377.30" x2="180.80" y2="377.30" stroke="#58a03a" stroke-width="2.3" stroke-linecap="butt"/>
<polygon points="169.20,373.00 173.10,380.90 165.30,380.90" fill="#58a03a" stroke="#3f7a2a" stroke-width="0.6"/>
<text x="185.60" y="380.85" font-size="11" text-anchor="start" fill="#1a1a1a" >CYP&amp;329</text>
<line x1="158.10" y1="394.00" x2="180.80" y2="394.00" stroke="#2e1648" stroke-width="2.3" stroke-linecap="butt"/>
<polygon points="169.20,390.00 172.40,394.00 169.20,398.00 166.00,394.00" fill="#4a2878" stroke="#2e1648" stroke-width="0.7"/>
<text x="185.60" y="397.55" font-size="11" text-anchor="start" fill="#1a1a1a" >CYP&amp;GCSF</text>
<polygon points="89.80,331.75 90.48,333.57 92.42,333.65 90.89,334.86 91.42,336.72 89.80,335.65 88.18,336.72 88.71,334.86 87.18,333.65 89.12,333.57" fill="#000"/>
<polygon points="95.80,331.75 96.48,333.57 98.42,333.65 96.89,334.86 97.42,336.72 95.80,335.65 94.18,336.72 94.71,334.86 93.18,333.65 95.12,333.57" fill="#000"/>
<polyline points="331.80,476.36 344.24,476.36 369.12,476.77 481.08,487.52" fill="none" stroke="#412263" stroke-width="2.6" stroke-linejoin="round"/>
<polyline points="331.80,464.63 344.24,419.75 369.12,431.35 481.08,475.86" fill="none" stroke="#58a03a" stroke-width="2.6" stroke-linejoin="round"/>
<polyline points="331.80,476.36 344.24,476.36 369.12,476.88 481.08,476.57" fill="none" stroke="#1a2650" stroke-width="2.2" stroke-linejoin="round"/>
<polyline points="331.80,476.36 344.24,476.36 369.12,476.88 481.08,476.57" fill="none" stroke="#880a2c" stroke-width="2.4" stroke-linejoin="round"/>
<line x1="481.08" y1="468.83" x2="481.08" y2="490.13" stroke="#111" stroke-width="1.6" stroke-linecap="butt"/>
<line x1="477.08" y1="468.83" x2="485.08" y2="468.83" stroke="#111" stroke-width="1.8" stroke-linecap="butt"/>
<line x1="477.08" y1="490.13" x2="485.08" y2="490.13" stroke="#111" stroke-width="1.8" stroke-linecap="butt"/>
<polygon points="331.80,472.36 335.00,476.36 331.80,480.36 328.60,476.36" fill="#4a2878" stroke="#2e1648" stroke-width="0.7"/>
<polygon points="344.24,472.36 347.44,476.36 344.24,480.36 341.04,476.36" fill="#4a2878" stroke="#2e1648" stroke-width="0.7"/>
<polygon points="369.12,472.77 372.32,476.77 369.12,480.77 365.92,476.77" fill="#4a2878" stroke="#2e1648" stroke-width="0.7"/>
<polygon points="481.08,483.52 484.28,487.52 481.08,491.52 477.88,487.52" fill="#4a2878" stroke="#2e1648" stroke-width="0.7"/>
<line x1="331.80" y1="459.87" x2="331.80" y2="469.46" stroke="#111" stroke-width="1.6" stroke-linecap="butt"/>
<line x1="327.80" y1="459.87" x2="335.80" y2="459.87" stroke="#111" stroke-width="1.8" stroke-linecap="butt"/>
<line x1="327.80" y1="469.46" x2="335.80" y2="469.46" stroke="#111" stroke-width="1.8" stroke-linecap="butt"/>
<line x1="344.24" y1="410.21" x2="344.24" y2="434.77" stroke="#111" stroke-width="1.6" stroke-linecap="butt"/>
<line x1="340.24" y1="410.21" x2="348.24" y2="410.21" stroke="#111" stroke-width="1.8" stroke-linecap="butt"/>
<line x1="340.24" y1="434.77" x2="348.24" y2="434.77" stroke="#111" stroke-width="1.8" stroke-linecap="butt"/>
<line x1="369.12" y1="418.33" x2="369.12" y2="453.88" stroke="#111" stroke-width="1.6" stroke-linecap="butt"/>
<line x1="365.12" y1="418.33" x2="373.12" y2="418.33" stroke="#111" stroke-width="1.8" stroke-linecap="butt"/>
<line x1="365.12" y1="453.88" x2="373.12" y2="453.88" stroke="#111" stroke-width="1.8" stroke-linecap="butt"/>
<polygon points="331.80,460.33 335.70,468.23 327.90,468.23" fill="#58a03a" stroke="#3f7a2a" stroke-width="0.6"/>
<polygon points="344.24,415.45 348.14,423.35 340.34,423.35" fill="#58a03a" stroke="#3f7a2a" stroke-width="0.6"/>
<polygon points="369.12,427.05 373.02,434.95 365.22,434.95" fill="#58a03a" stroke="#3f7a2a" stroke-width="0.6"/>
<polygon points="481.08,471.56 484.98,479.46 477.18,479.46" fill="#58a03a" stroke="#3f7a2a" stroke-width="0.6"/>
<rect x="328.20" y="472.76" width="7.20" height="7.20" fill="#274a85" stroke="#1a2650" stroke-width="0.8"/>
<rect x="340.64" y="472.76" width="7.20" height="7.20" fill="#274a85" stroke="#1a2650" stroke-width="0.8"/>
<rect x="365.52" y="473.28" width="7.20" height="7.20" fill="#274a85" stroke="#1a2650" stroke-width="0.8"/>
<rect x="477.48" y="472.97" width="7.20" height="7.20" fill="#274a85" stroke="#1a2650" stroke-width="0.8"/>
<circle cx="331.80" cy="476.36" r="3.80" fill="#fff" stroke="#7e0828" stroke-width="1.60"/>
<circle cx="344.24" cy="476.36" r="3.80" fill="#fff" stroke="#7e0828" stroke-width="1.60"/>
<circle cx="369.12" cy="476.88" r="3.80" fill="#fff" stroke="#7e0828" stroke-width="1.60"/>
<circle cx="481.08" cy="476.57" r="3.80" fill="#fff" stroke="#7e0828" stroke-width="1.60"/>
<line x1="325.90" y1="333.80" x2="325.90" y2="503.50" stroke="#111" stroke-width="1.8" stroke-linecap="butt"/>
<line x1="321.70" y1="502.50" x2="497.70" y2="502.50" stroke="#111" stroke-width="2.0" stroke-linecap="butt"/>
<line x1="320.90" y1="501.80" x2="325.90" y2="501.80" stroke="#111" stroke-width="1.6" stroke-linecap="butt"/>
<text x="316.00" y="506.00" font-size="11.0" text-anchor="end" fill="#1a1a1a" textLength="13.34" lengthAdjust="spacingAndGlyphs">10</text>
<line x1="320.90" y1="440.50" x2="325.90" y2="440.50" stroke="#111" stroke-width="1.6" stroke-linecap="butt"/>
<text x="316.00" y="444.70" font-size="11.0" text-anchor="end" fill="#1a1a1a" textLength="20.02" lengthAdjust="spacingAndGlyphs">100</text>
<line x1="320.90" y1="379.20" x2="325.90" y2="379.20" stroke="#111" stroke-width="1.6" stroke-linecap="butt"/>
<text x="316.00" y="383.40" font-size="11.0" text-anchor="end" fill="#1a1a1a" textLength="26.69" lengthAdjust="spacingAndGlyphs">1000</text>
<line x1="323.30" y1="483.35" x2="325.90" y2="483.35" stroke="#111" stroke-width="1.4" stroke-linecap="butt"/>
<line x1="323.30" y1="472.55" x2="325.90" y2="472.55" stroke="#111" stroke-width="1.4" stroke-linecap="butt"/>
<line x1="323.30" y1="464.89" x2="325.90" y2="464.89" stroke="#111" stroke-width="1.4" stroke-linecap="butt"/>
<line x1="323.30" y1="458.95" x2="325.90" y2="458.95" stroke="#111" stroke-width="1.4" stroke-linecap="butt"/>
<line x1="323.30" y1="454.10" x2="325.90" y2="454.10" stroke="#111" stroke-width="1.4" stroke-linecap="butt"/>
<line x1="323.30" y1="450.00" x2="325.90" y2="450.00" stroke="#111" stroke-width="1.4" stroke-linecap="butt"/>
<line x1="323.30" y1="446.44" x2="325.90" y2="446.44" stroke="#111" stroke-width="1.4" stroke-linecap="butt"/>
<line x1="323.30" y1="443.30" x2="325.90" y2="443.30" stroke="#111" stroke-width="1.4" stroke-linecap="butt"/>
<line x1="323.30" y1="422.05" x2="325.90" y2="422.05" stroke="#111" stroke-width="1.4" stroke-linecap="butt"/>
<line x1="323.30" y1="411.25" x2="325.90" y2="411.25" stroke="#111" stroke-width="1.4" stroke-linecap="butt"/>
<line x1="323.30" y1="403.59" x2="325.90" y2="403.59" stroke="#111" stroke-width="1.4" stroke-linecap="butt"/>
<line x1="323.30" y1="397.65" x2="325.90" y2="397.65" stroke="#111" stroke-width="1.4" stroke-linecap="butt"/>
<line x1="323.30" y1="392.80" x2="325.90" y2="392.80" stroke="#111" stroke-width="1.4" stroke-linecap="butt"/>
<line x1="323.30" y1="388.70" x2="325.90" y2="388.70" stroke="#111" stroke-width="1.4" stroke-linecap="butt"/>
<line x1="323.30" y1="385.14" x2="325.90" y2="385.14" stroke="#111" stroke-width="1.4" stroke-linecap="butt"/>
<line x1="323.30" y1="382.00" x2="325.90" y2="382.00" stroke="#111" stroke-width="1.4" stroke-linecap="butt"/>
<line x1="323.30" y1="360.75" x2="325.90" y2="360.75" stroke="#111" stroke-width="1.4" stroke-linecap="butt"/>
<line x1="323.30" y1="349.95" x2="325.90" y2="349.95" stroke="#111" stroke-width="1.4" stroke-linecap="butt"/>
<line x1="323.30" y1="342.29" x2="325.90" y2="342.29" stroke="#111" stroke-width="1.4" stroke-linecap="butt"/>
<line x1="323.30" y1="336.35" x2="325.90" y2="336.35" stroke="#111" stroke-width="1.4" stroke-linecap="butt"/>
<line x1="331.80" y1="502.50" x2="331.80" y2="507.00" stroke="#111" stroke-width="1.6" stroke-linecap="butt"/>
<text x="331.80" y="522.00" font-size="11.0" text-anchor="middle" fill="#1a1a1a" textLength="6.67" lengthAdjust="spacingAndGlyphs">0</text>
<line x1="338.02" y1="502.50" x2="338.02" y2="504.90" stroke="#111" stroke-width="1.4" stroke-linecap="butt"/>
<line x1="344.24" y1="502.50" x2="344.24" y2="504.90" stroke="#111" stroke-width="1.4" stroke-linecap="butt"/>
<line x1="350.46" y1="502.50" x2="350.46" y2="504.90" stroke="#111" stroke-width="1.4" stroke-linecap="butt"/>
<line x1="356.68" y1="502.50" x2="356.68" y2="504.90" stroke="#111" stroke-width="1.4" stroke-linecap="butt"/>
<line x1="362.90" y1="502.50" x2="362.90" y2="504.90" stroke="#111" stroke-width="1.4" stroke-linecap="butt"/>
<line x1="369.12" y1="502.50" x2="369.12" y2="507.00" stroke="#111" stroke-width="1.6" stroke-linecap="butt"/>
<text x="369.12" y="522.00" font-size="11.0" text-anchor="middle" fill="#1a1a1a" textLength="6.67" lengthAdjust="spacingAndGlyphs">6</text>
<line x1="375.34" y1="502.50" x2="375.34" y2="504.90" stroke="#111" stroke-width="1.4" stroke-linecap="butt"/>
<line x1="381.56" y1="502.50" x2="381.56" y2="504.90" stroke="#111" stroke-width="1.4" stroke-linecap="butt"/>
<line x1="387.78" y1="502.50" x2="387.78" y2="504.90" stroke="#111" stroke-width="1.4" stroke-linecap="butt"/>
<line x1="394.00" y1="502.50" x2="394.00" y2="504.90" stroke="#111" stroke-width="1.4" stroke-linecap="butt"/>
<line x1="400.22" y1="502.50" x2="400.22" y2="504.90" stroke="#111" stroke-width="1.4" stroke-linecap="butt"/>
<line x1="406.44" y1="502.50" x2="406.44" y2="507.00" stroke="#111" stroke-width="1.6" stroke-linecap="butt"/>
<text x="406.44" y="522.00" font-size="11.0" text-anchor="middle" fill="#1a1a1a" textLength="13.34" lengthAdjust="spacingAndGlyphs">12</text>
<line x1="412.66" y1="502.50" x2="412.66" y2="504.90" stroke="#111" stroke-width="1.4" stroke-linecap="butt"/>
<line x1="418.88" y1="502.50" x2="418.88" y2="504.90" stroke="#111" stroke-width="1.4" stroke-linecap="butt"/>
<line x1="425.10" y1="502.50" x2="425.10" y2="504.90" stroke="#111" stroke-width="1.4" stroke-linecap="butt"/>
<line x1="431.32" y1="502.50" x2="431.32" y2="504.90" stroke="#111" stroke-width="1.4" stroke-linecap="butt"/>
<line x1="437.54" y1="502.50" x2="437.54" y2="504.90" stroke="#111" stroke-width="1.4" stroke-linecap="butt"/>
<line x1="443.76" y1="502.50" x2="443.76" y2="507.00" stroke="#111" stroke-width="1.6" stroke-linecap="butt"/>
<text x="443.76" y="522.00" font-size="11.0" text-anchor="middle" fill="#1a1a1a" textLength="13.34" lengthAdjust="spacingAndGlyphs">18</text>
<line x1="449.98" y1="502.50" x2="449.98" y2="504.90" stroke="#111" stroke-width="1.4" stroke-linecap="butt"/>
<line x1="456.20" y1="502.50" x2="456.20" y2="504.90" stroke="#111" stroke-width="1.4" stroke-linecap="butt"/>
<line x1="462.42" y1="502.50" x2="462.42" y2="504.90" stroke="#111" stroke-width="1.4" stroke-linecap="butt"/>
<line x1="468.64" y1="502.50" x2="468.64" y2="504.90" stroke="#111" stroke-width="1.4" stroke-linecap="butt"/>
<line x1="474.86" y1="502.50" x2="474.86" y2="504.90" stroke="#111" stroke-width="1.4" stroke-linecap="butt"/>
<line x1="481.08" y1="502.50" x2="481.08" y2="507.00" stroke="#111" stroke-width="1.6" stroke-linecap="butt"/>
<text x="481.08" y="522.00" font-size="11.0" text-anchor="middle" fill="#1a1a1a" textLength="13.34" lengthAdjust="spacingAndGlyphs">24</text>
<line x1="487.30" y1="502.50" x2="487.30" y2="504.90" stroke="#111" stroke-width="1.4" stroke-linecap="butt"/>
<line x1="493.52" y1="502.50" x2="493.52" y2="504.90" stroke="#111" stroke-width="1.4" stroke-linecap="butt"/>
<text x="412.05" y="324.90" font-size="13.5" text-anchor="middle" fill="#1a1a1a" textLength="62.9" lengthAdjust="spacingAndGlyphs">14th Dose</text>
<text x="411.75" y="541.80" font-size="13.8" text-anchor="middle" fill="#1a1a1a" textLength="24.3" lengthAdjust="spacingAndGlyphs" font-weight="bold">Hours</text>
<text transform="translate(279.00,438.15) rotate(-90)" x="0" y="0" font-size="13.3" text-anchor="middle" font-weight="bold" fill="#1a1a1a" stroke="#1a1a1a" stroke-width="0.15" textLength="16.9" lengthAdjust="spacingAndGlyphs">IL-6</text>
<text transform="translate(279.00,407.95) rotate(-90)" x="0" y="0" font-size="13.3" text-anchor="middle" font-weight="bold" fill="#1a1a1a" stroke="#1a1a1a" stroke-width="0.15" textLength="35.8" lengthAdjust="spacingAndGlyphs">(pg/mL)</text>
<line x1="409.60" y1="345.00" x2="432.70" y2="345.00" stroke="#880a2c" stroke-width="2.3" stroke-linecap="butt"/>
<circle cx="421.20" cy="345.00" r="3.80" fill="#fff" stroke="#7e0828" stroke-width="1.60"/>
<text x="436.50" y="348.55" font-size="11" text-anchor="start" fill="#1a1a1a" >Vehicle</text>
<line x1="409.60" y1="361.70" x2="432.70" y2="361.70" stroke="#1a2650" stroke-width="2.3" stroke-linecap="butt"/>
<rect x="417.60" y="358.10" width="7.20" height="7.20" fill="#274a85" stroke="#1a2650" stroke-width="0.8"/>
<text x="436.50" y="365.25" font-size="11" text-anchor="start" fill="#1a1a1a" >CYP</text>
<line x1="409.60" y1="378.50" x2="432.70" y2="378.50" stroke="#58a03a" stroke-width="2.3" stroke-linecap="butt"/>
<polygon points="421.20,374.20 425.10,382.10 417.30,382.10" fill="#58a03a" stroke="#3f7a2a" stroke-width="0.6"/>
<text x="436.50" y="382.05" font-size="11" text-anchor="start" fill="#1a1a1a" >CYP&amp;329</text>
<line x1="409.60" y1="395.40" x2="432.70" y2="395.40" stroke="#2e1648" stroke-width="2.3" stroke-linecap="butt"/>
<polygon points="421.20,391.40 424.40,395.40 421.20,399.40 418.00,395.40" fill="#4a2878" stroke="#2e1648" stroke-width="0.7"/>
<text x="436.50" y="398.95" font-size="11" text-anchor="start" fill="#1a1a1a" >CYP&amp;GCSF</text>
<polygon points="343.50,396.85 344.18,398.67 346.12,398.75 344.59,399.96 345.12,401.82 343.50,400.75 341.88,401.82 342.41,399.96 340.88,398.75 342.82,398.67" fill="#000"/>
<text x="10.6" y="23" font-size="17.5" font-weight="bold" fill="#000">A</text>
<text x="11.2" y="302" font-size="17.5" font-weight="bold" fill="#000" textLength="11.7" lengthAdjust="spacingAndGlyphs">B</text>
<rect x="46.01" y="197.95" width="2.74" height="2.42" fill="#fff"/>
<rect x="49.91" y="197.95" width="2.49" height="2.42" fill="#fff"/>
<rect x="154.76" y="241.88" width="2.73" height="2.42" fill="#fff"/>
<rect x="158.66" y="241.88" width="2.49" height="2.42" fill="#fff"/>
<rect x="194.66" y="241.88" width="2.73" height="2.42" fill="#fff"/>
<rect x="198.56" y="241.88" width="2.49" height="2.42" fill="#fff"/>
<rect x="296.21" y="57.88" width="2.74" height="2.42" fill="#fff"/>
<rect x="300.11" y="57.88" width="2.49" height="2.42" fill="#fff"/>
<rect x="405.52" y="241.68" width="2.73" height="2.42" fill="#fff"/>
<rect x="409.42" y="241.68" width="2.49" height="2.42" fill="#fff"/>
<rect x="445.49" y="241.68" width="2.73" height="2.42" fill="#fff"/>
<rect x="449.39" y="241.68" width="2.49" height="2.42" fill="#fff"/>
<rect x="386.97" y="40.99" width="3.11" height="2.61" fill="#fff"/>
<rect x="391.38" y="40.99" width="2.84" height="2.61" fill="#fff"/>
<rect x="52.69" y="505.48" width="2.73" height="2.42" fill="#fff"/>
<rect x="56.59" y="505.48" width="2.49" height="2.42" fill="#fff"/>
<rect x="46.01" y="449.48" width="2.74" height="2.42" fill="#fff"/>
<rect x="49.91" y="449.48" width="2.49" height="2.42" fill="#fff"/>
<rect x="39.34" y="393.48" width="2.73" height="2.42" fill="#fff"/>
<rect x="43.24" y="393.48" width="2.49" height="2.42" fill="#fff"/>
<rect x="32.67" y="337.48" width="2.74" height="2.42" fill="#fff"/>
<rect x="36.57" y="337.48" width="2.49" height="2.42" fill="#fff"/>
<rect x="148.80" y="520.78" width="2.73" height="2.42" fill="#fff"/>
<rect x="152.70" y="520.78" width="2.49" height="2.42" fill="#fff"/>
<rect x="185.82" y="520.78" width="2.73" height="2.42" fill="#fff"/>
<rect x="189.72" y="520.78" width="2.49" height="2.42" fill="#fff"/>
<rect x="302.89" y="504.48" width="2.73" height="2.42" fill="#fff"/>
<rect x="306.79" y="504.48" width="2.49" height="2.42" fill="#fff"/>
<rect x="296.21" y="443.18" width="2.74" height="2.42" fill="#fff"/>
<rect x="300.11" y="443.18" width="2.49" height="2.42" fill="#fff"/>
<rect x="289.54" y="381.88" width="2.73" height="2.42" fill="#fff"/>
<rect x="293.44" y="381.88" width="2.49" height="2.42" fill="#fff"/>
<rect x="400.00" y="520.48" width="2.73" height="2.42" fill="#fff"/>
<rect x="403.90" y="520.48" width="2.49" height="2.42" fill="#fff"/>
<rect x="437.32" y="520.48" width="2.73" height="2.42" fill="#fff"/>
<rect x="441.22" y="520.48" width="2.49" height="2.42" fill="#fff"/>
<rect x="380.87" y="323.19" width="3.15" height="2.61" fill="#fff"/>
<rect x="385.34" y="323.19" width="2.88" height="2.61" fill="#fff"/>
<rect x="1" y="1" width="518" height="552" fill="none" stroke="#000" stroke-width="2"/>
</svg>
</body></html>
